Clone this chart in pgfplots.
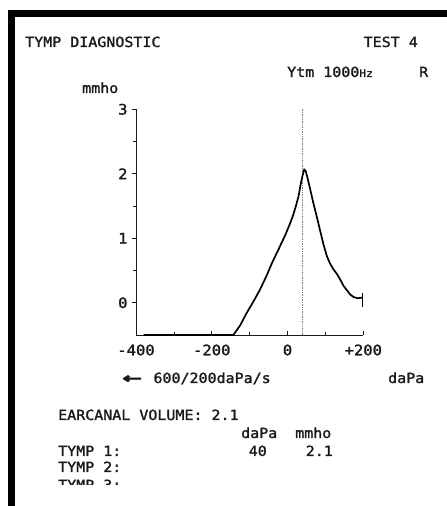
\documentclass[border=0pt]{standalone}
\usepackage{pgfplots}
\pgfplotsset{compat=1.18}
\usepackage{fontspec}
\setmainfont{DejaVu Sans Mono}[FakeStretch=1.07, FakeBold=1.5]
\newfontfamily\arrowfont{DejaVu Sans Bold}[FakeBold=3]
\definecolor{ink}{HTML}{1A1A1A}
\begin{document}
\begin{tikzpicture}[x=1bp,y=1bp]
\path[fill=white] (0,0) rectangle (447,506);
\fill[black] (8,489) rectangle (447,496);
\fill[black] (8,0) rectangle (15,496);
\begin{axis}[
  at={(136bp,171bp)}, anchor=south west,
  scale only axis, width=227.3bp, height=225.7bp,
  xmin=-400, xmax=200, ymin=-0.5, ymax=3,
  axis lines*=left,
  axis line style={ink, line width=0.8bp},
  clip=false,
  xtick={-400,-200,0,200},
  xticklabels={-400,-200,0,+200},
  minor xtick={-300,-100,100},
  ytick={0,1,2,3},
  minor ytick={0.5,1.5,2.5},
  tick align=outside,
  major tick length=4bp, minor tick length=3bp,
  major x tick style={yshift=4bp},
  minor x tick style={yshift=3bp},
  tick style={ink, line width=0.7bp},
  /pgf/number format/assume math mode=true,
  ticklabel style={font=\fontsize{14.5bp}{16bp}\selectfont, text=ink},
  x tick label style={yshift=-2bp},
  y tick label style={xshift=-1bp},
]
\addplot[gray, densely dotted, line width=0.7bp] coordinates {(40,-0.5) (40,3)};
\addplot[black, line width=1.7bp, line join=round] coordinates {
(-380,-0.5) (-143,-0.5) (-125,-0.35) (-108,-0.16) (-90,0.02) (-73,0.2)
(-56,0.41) (-40,0.63) (-22,0.85) (-6,1.05) (6,1.22) (15,1.36) (22,1.5)
(29,1.65) (35,1.85) (40,1.98) (44,2.07) (48,2.04) (53,1.93) (59,1.78)
(68,1.55) (77,1.34) (86,1.12) (95,0.9) (104,0.72) (112,0.61) (121,0.52)
(130,0.45) (139,0.36) (148,0.26) (156,0.2) (165,0.13) (174,0.09)
(185,0.07) (197,0.08)};
\addplot[black, line width=1.7bp] coordinates {(198,-0.06) (198,0.15)};
\end{axis}
\begin{scope}[every node/.style={inner sep=0pt, text=ink, font=\fontsize{14bp}{16bp}\selectfont}]
\node[anchor=base west] at (25,459) {TYMP DIAGNOSTIC};
\node[anchor=base east] at (418,459) {TEST 4};
\node[anchor=base west] at (287,429) {Ytm 1000{\fontsize{10.5bp}{12bp}\selectfont Hz}};
\node[anchor=base west] at (419,429) {R};
\node[anchor=base west] at (82,413) {mmho};
\node[anchor=base west] at (122,123) {{\arrowfont\scalebox{1.7}[1]{←}}\, 600/200daPa/s};
\node[anchor=base west] at (388,123) {daPa};
\node[anchor=base west] at (58,86) {EARCANAL VOLUME: 2.1};
\node[anchor=base west] at (241,68) {daPa};
\node[anchor=base west] at (295,68) {mmho};
\node[anchor=base west] at (58,50) {TYMP 1:};
\node[anchor=base east] at (267,50) {40};
\node[anchor=base east] at (333,50) {2.1};
\node[anchor=base west] at (58,34) {TYMP 2:};
\begin{scope}
\clip (40,21.5) rectangle (200,40);
\node[anchor=base west] at (58,16) {TYMP 3:};
\end{scope}
\end{scope}
\end{tikzpicture}
\end{document}
